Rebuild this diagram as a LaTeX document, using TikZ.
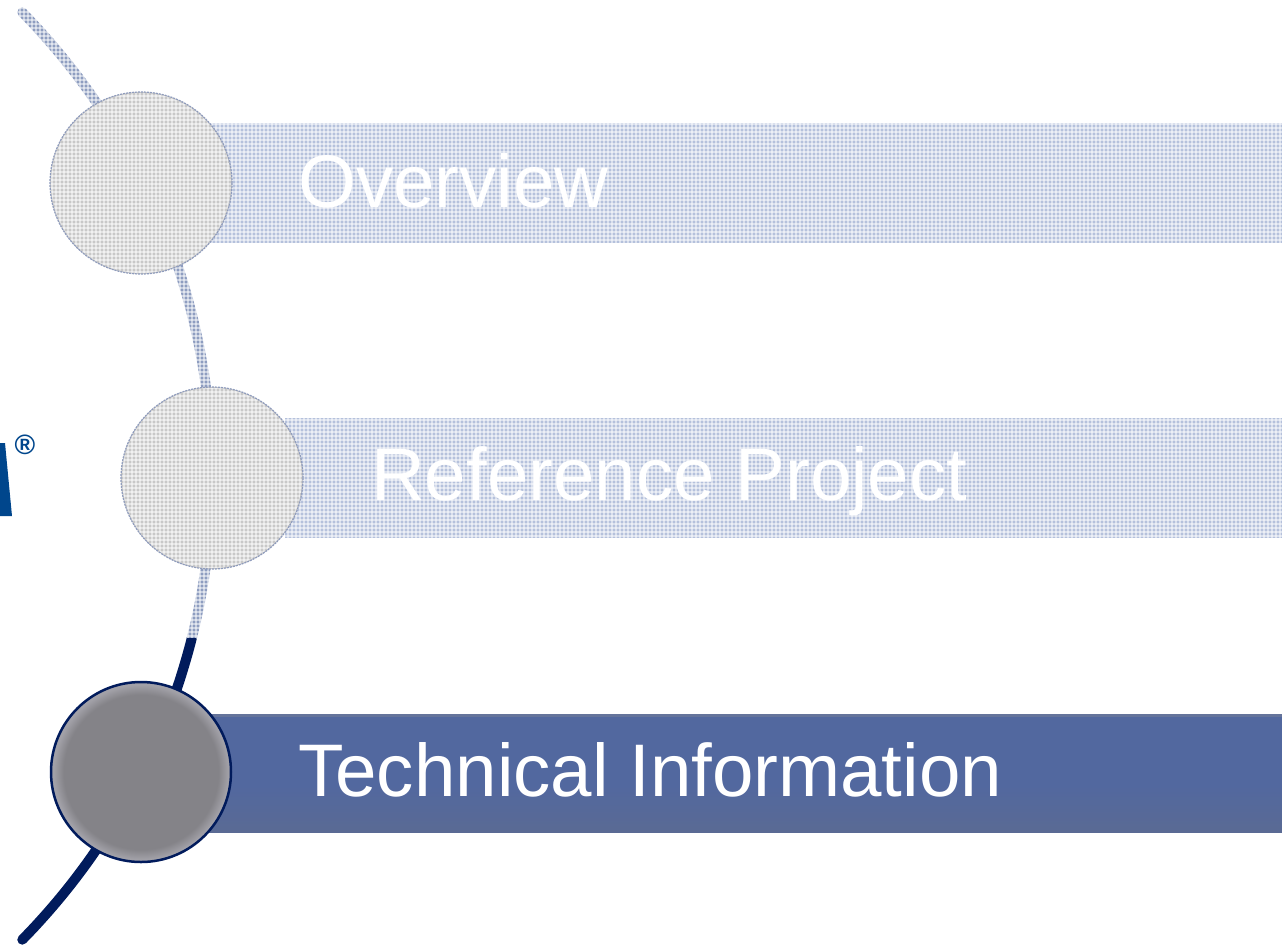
\documentclass[tikz,border=0pt]{standalone}
\usepackage{fontspec}
\setmainfont{Liberation Sans}
\definecolor{arcblue}{HTML}{011B5C}
\definecolor{barblue}{HTML}{52689F}
\definecolor{bartop}{HTML}{5A6FA6}
\definecolor{barlow}{HTML}{5A6A94}
\definecolor{palebar}{HTML}{B5C1DC}
\definecolor{palearc}{HTML}{8E9DC0}
\definecolor{palecirc}{HTML}{C8C8C8}
\definecolor{paleedge}{HTML}{8F9CBD}
\definecolor{logoblue}{HTML}{00468C}
\definecolor{knob}{HTML}{848388}
\definecolor{knobrim}{HTML}{A2A1A8}
\pgfdeclareradialshading{knobshade}{\pgfpoint{0bp}{0bp}}{%
  color(0bp)=(knob);color(21.5bp)=(knob);color(24.3bp)=(knobrim);color(25bp)=(knobrim);color(50bp)=(knobrim)}
\tikzset{
  label text/.style={text=white,font=\fontsize{74.5}{74.5}\selectfont,anchor=west,inner sep=0pt},
  arc line/.style={line width=10pt,line cap=round},
  pale disc/.style={circle,minimum size=182pt,inner sep=0pt,fill=palecirc,draw=paleedge,line width=1.2pt,dash pattern=on 2pt off 1pt},
  mesh line/.style={white,line width=1.5pt,opacity=.5},
}
\newcommand{\halftone}[4]{%
  \foreach \xx in {#1,\the\numexpr#1+4\relax,...,#3}{\draw[mesh line](\xx,#2)--(\xx,#4);}
  \foreach \yy in {#2,\the\numexpr#2+4\relax,...,#4}{\draw[mesh line](#1,\yy)--(#3,\yy);}
}
\begin{document}
\begin{tikzpicture}[x=1pt,y=-1pt]
\useasboundingbox (0,0) rectangle (1282,946);
% arc
\draw[arc line,arcblue] plot[domain=14.2:44.5,samples=40] ({-449.6+661.6*cos(\x)},{476+661.6*sin(\x)});
\begin{scope}
\clip (0,0) rectangle (240,637);
\draw[arc line,palearc] plot[domain=-44.5:14.2,samples=80] ({-449.6+661.6*cos(\x)},{476+661.6*sin(\x)});
\halftone{0}{0}{240}{640}
\end{scope}
% bars
\fill[palebar] (205,123) rectangle (1282,243);
\fill[palebar] (285,418) rectangle (1282,538);
\begin{scope}
\clip (205,123) rectangle (1282,243);
\halftone{204}{120}{1282}{244}
\end{scope}
\begin{scope}
\clip (285,418) rectangle (1282,538);
\halftone{284}{416}{1282}{540}
\end{scope}
\fill[barblue] (205,714) rectangle (1282,832);
\fill[bartop!70!gray] (205,714) rectangle (1282,717);
\shade[top color=barblue,bottom color=barlow] (205,785) rectangle (1282,832);
% pale circles
\node[pale disc] (c1) at (141,183) {};
\node[pale disc] (c2) at (212,478) {};
\begin{scope}
\clip (141,183) circle (90);
\halftone{48}{92}{232}{276}
\end{scope}
\begin{scope}
\clip (212,478) circle (90);
\halftone{120}{388}{304}{570}
\end{scope}
% active circle
\node[circle,minimum size=180pt,inner sep=0pt,draw=arcblue,line width=2.5pt,shading=knobshade] (c3) at (141,772) {};
% labels
\node[label text] (t1) at (298,181) {Overview};
\node[label text] (t2) at (371,481) {Reference Project};
\node[label text] (t3) at (298,770) {Technical Information};
% logo fragment
\fill[logoblue] (0,443) -- (5,443) -- (12,516) -- (0,516) -- cycle;
\node[text=logoblue,font=\bfseries\fontsize{28}{28}\selectfont,inner sep=0pt] (reg) at (25,445) {®};
\end{tikzpicture}
\end{document}
